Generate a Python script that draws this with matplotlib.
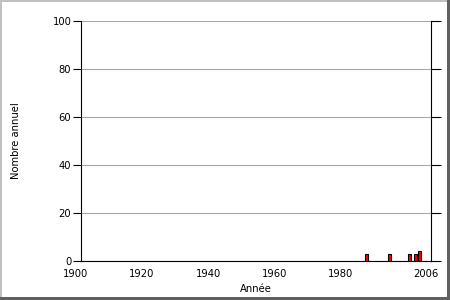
import matplotlib
matplotlib.use("Agg")
import matplotlib.pyplot as plt
import matplotlib.transforms as mtransforms
from matplotlib.patches import Rectangle

years = [1986, 1993, 1999, 2001, 2002]
counts = [3, 3, 3, 3, 4]
xtick_vals = [1900, 1920, 1940, 1960, 1980, 2006]
xtick_labels = ["1900", "1920", "1940", "1960", "1980", "2006"]
ytick_vals = [0, 20, 40, 60, 80, 100]

plt.rcParams['font.family'] = ['DejaVu Sans']
fig = plt.figure(figsize=(4.5, 3.0), dpi=100)
fig.patch.set_facecolor('white')
ax = fig.add_axes([81/450, 39/300, 350/450, 240/300])

ax.bar(years, counts, width=0.9, align='edge', color='#ff0000',
       edgecolor='black', linewidth=0.8, zorder=3)

ax.set_xlim(1900, 2006)
ax.set_ylim(0, 100)
ax.set_yticks(ytick_vals)
ax.set_yticklabels([str(v) for v in ytick_vals], fontsize=7.2)
ax.set_xticks(xtick_vals)
ax.set_xticklabels(xtick_labels, fontsize=7.2)
ax.tick_params(axis='x', length=0, pad=6)
ax.tick_params(axis='y', direction='out', length=6, width=0.8, pad=1,
               right=True, labelright=False)
for t in ax.yaxis.get_major_ticks():
    t.tick2line.set_markersize(7)

offset = mtransforms.ScaledTranslation(-5/100, 0, fig.dpi_scale_trans)
for lbl in ax.get_xticklabels():
    lbl.set_transform(lbl.get_transform() + offset)

ax.yaxis.grid(True, color='#a8a8a8', linewidth=0.8, zorder=0)
ax.set_axisbelow(True)
for s in ['left', 'right', 'bottom']:
    ax.spines[s].set_color('black')
    ax.spines[s].set_linewidth(0.8)
ax.spines['top'].set_visible(False)

ax.set_xlabel("Année", fontsize=7.2, labelpad=0)
ax.xaxis.set_label_coords(0.5, -0.095)
ax.set_ylabel("Nombre annuel", fontsize=7.2)
ax.yaxis.set_label_coords(-0.17, 0.5)

# bevel border
fig.patches.append(Rectangle((0, 0), 2/450, 1, transform=fig.transFigure,
                             facecolor='#c0c0c0', edgecolor='none'))
fig.patches.append(Rectangle((0, 1 - 2/300), 1, 2/300, transform=fig.transFigure,
                             facecolor='#c0c0c0', edgecolor='none'))
fig.patches.append(Rectangle((1 - 3/450, 0), 3/450, 1, transform=fig.transFigure,
                             facecolor='#606060', edgecolor='none'))
fig.patches.append(Rectangle((0, 0), 1, 3/300, transform=fig.transFigure,
                             facecolor='#606060', edgecolor='none'))

fig.savefig("out.png", dpi=100)
